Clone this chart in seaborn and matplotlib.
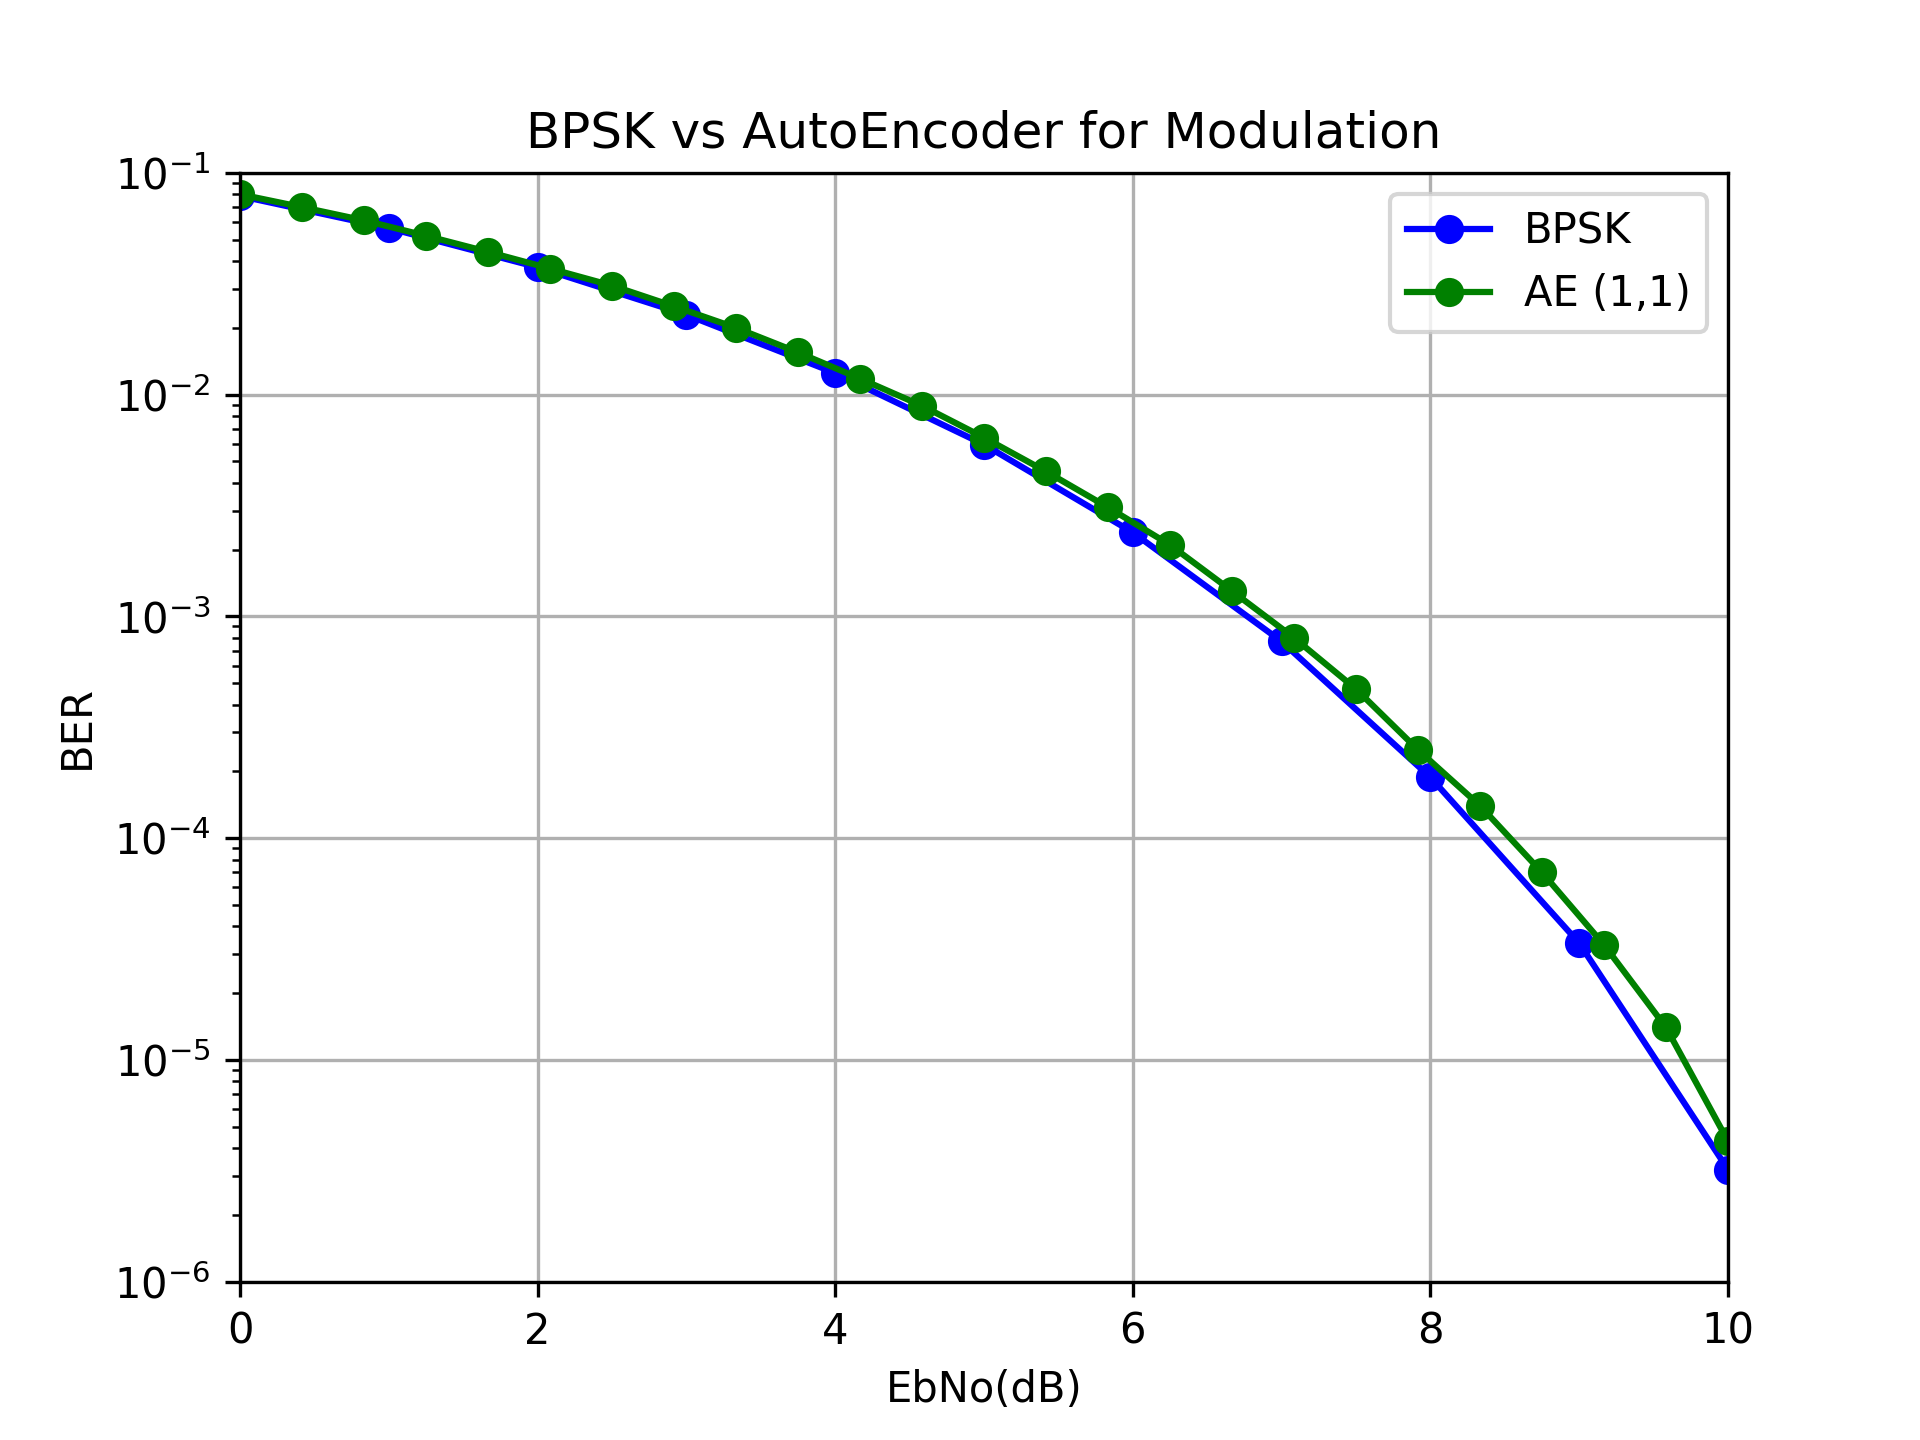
import matplotlib
matplotlib.use("Agg")
import matplotlib.pyplot as plt
import numpy as np
import pandas as pd
import seaborn as sns

bpsk_ebno = [0, 1, 2, 3, 4, 5, 6, 7, 8, 9, 10]
bpsk_ber = [0.0786, 0.0563, 0.0375, 0.0229, 0.0125, 0.00595, 0.00239,
            0.00077, 0.000188, 3.36e-5, 3.2e-6]

ae_ebno = list(np.linspace(0, 10, 25))
ae_ber = [0.08, 0.07, 0.061, 0.052, 0.044, 0.037, 0.031, 0.025, 0.020,
          0.0155, 0.0118, 0.0089, 0.0064, 0.0045, 0.0031, 0.0021, 0.0013,
          0.0008, 0.00047, 0.00025, 0.00014, 7e-5, 3.3e-5, 1.4e-5, 4.3e-6]

df_bpsk = pd.DataFrame({"ebno": bpsk_ebno, "ber": bpsk_ber})
df_ae = pd.DataFrame({"ebno": ae_ebno, "ber": ae_ber})

fig, ax = plt.subplots(figsize=(6.4, 4.8), dpi=300)
sns.lineplot(data=df_bpsk, x="ebno", y="ber", ax=ax, color="blue", marker="o",
             markersize=7, markeredgewidth=0, linewidth=1.5, label="BPSK")
sns.lineplot(data=df_ae, x="ebno", y="ber", ax=ax, color="green", marker="o",
             markersize=7, markeredgewidth=0, linewidth=1.5, label="AE (1,1)")
ax.set_yscale("log")
ax.set_xlim(0, 10)
ax.set_ylim(1e-6, 1e-1)
ax.grid(True)
ax.set_title("BPSK vs AutoEncoder for Modulation")
ax.set_xlabel("EbNo(dB)")
ax.set_ylabel("BER")
ax.legend(loc="upper right")
fig.savefig("out.png")
